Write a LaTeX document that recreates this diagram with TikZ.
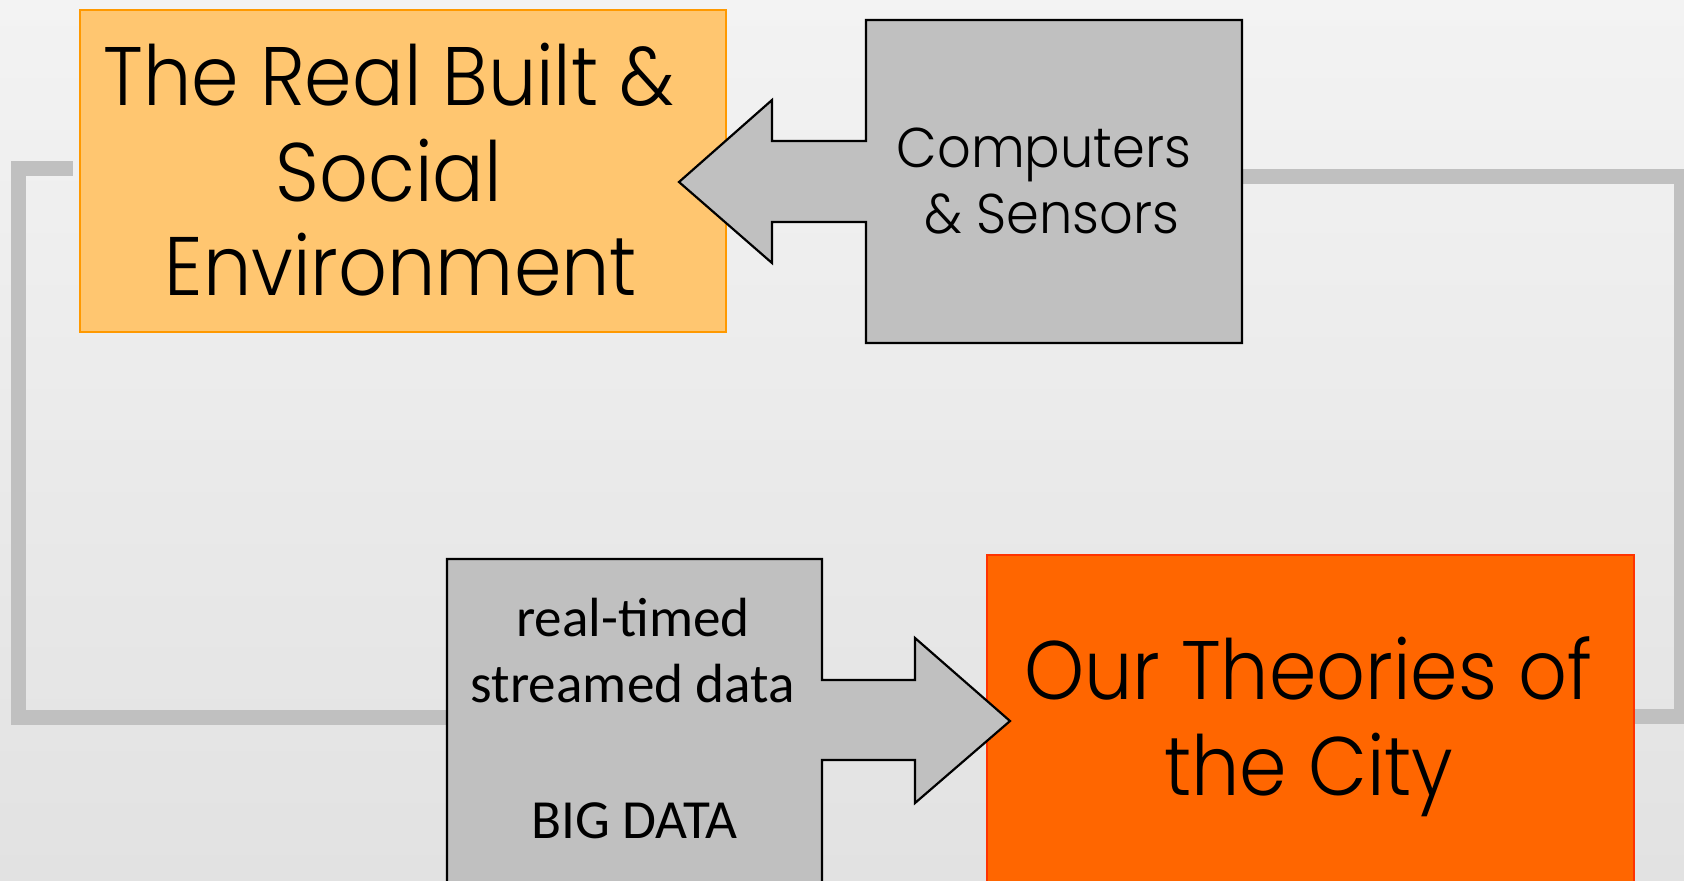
\documentclass[tikz,border=0pt]{standalone}
\usepackage{fontspec}
\newfontfamily\gothic[FakeStretch=0.92]{Poppins Light}
\newfontfamily\gothicmid[FakeStretch=0.94]{Poppins Light}
\newfontfamily\calib{Carlito}
\definecolor{bgtop}{HTML}{F3F3F3}
\definecolor{bgbot}{HTML}{E2E2E2}
\definecolor{lorange}{HTML}{FFC670}
\definecolor{lorangeb}{HTML}{FF9900}
\definecolor{dorange}{HTML}{FF6600}
\definecolor{dorangeb}{HTML}{FF3300}
\definecolor{boxgray}{HTML}{C0C0C0}
\begin{document}
\begin{tikzpicture}[x=0.5pt,y=-0.5pt,
  envbox/.style={rectangle,draw=lorangeb,fill=lorange,line width=1.2pt,inner sep=0pt,
    minimum width=323pt,minimum height=161pt},
  citybox/.style={rectangle,draw=dorangeb,fill=dorange,line width=1.3pt,inner sep=0pt,
    minimum width=323.5pt,minimum height=169.5pt},
  ghostbox/.style={rectangle,draw=none,inner sep=0pt},
  grayshape/.style={draw=black,fill=boxgray,line width=1.1pt,line join=miter},
  link/.style={draw=boxgray,line width=7.5pt,line join=miter,line cap=butt},
  bigtext/.style={font=\gothic\fontsize{41.5pt}{47pt}\selectfont,inner sep=0pt,anchor=base,text=black},
  midtext/.style={font=\gothicmid\fontsize{28pt}{33pt}\selectfont,inner sep=0pt,anchor=base,text=black},
  caltext/.style={font=\calib\fontsize{27.6pt}{33pt}\selectfont,inner sep=0pt,anchor=base,text=black}]
\useasboundingbox (0,0) rectangle (1684,880);
\clip (0,0) rectangle (1684,880);
\shade[top color=bgtop,bottom color=bgbot] (0,0) rectangle (1684,880);

% boxes (named)
\node[envbox] (env) at (403,171) {};
\node[citybox] (theories) at (1310.5,724.5) {};
\node[ghostbox,minimum width=188pt,minimum height=161.5pt] (sensors) at (1054,181.5) {};
\node[ghostbox,minimum width=187.5pt,minimum height=166pt] (data) at (634.5,725) {};

% feedback connectors
\coordinate (rt) at (1681,176);
\coordinate (rb) at (1681,716);
\coordinate (lt) at (18,168.5);
\coordinate (lb) at (18,717);
\coordinate (envgap) at ([xshift=-3pt]env.west);
\draw[link] (sensors.east |- rt) -- (rt) -- (rb) -- (theories.east |- rb);
\draw[link] (envgap |- lt) -- (lt) -- (lb) -- (data.west |- lb);

% box + arrow shapes
\draw[grayshape] (866,20) -- (1242,20) -- (1242,343) -- (866,343) -- (866,222)
  -- (772,222) -- (772,263) -- (679,182) -- (772,100) -- (772,141) -- (866,141) -- cycle;
\draw[grayshape] (447,559) -- (822,559) -- (822,680) -- (915,680) -- (915,638)
  -- (1010,721) -- (915,803) -- (915,760) -- (822,760) -- (822,900) -- (447,900) -- cycle;

% texts
\node[bigtext] (t1) at (389,105) {The Real Built \&};
\node[bigtext] (t2) at (389,201) {Social};
\node[bigtext] (t3) at (401,295) {Environment};
\node[midtext] (s1) at (1044,167) {Computers};
\node[midtext] (s2) at (1052,233) {\& Sensors};
\node[bigtext] (c1) at (1308,699) {Our Theories of};
\node[bigtext] (c2) at (1309,795) {the City};
\node[caltext] (d1) at (633,636) {real-timed};
\node[caltext] (d2) at (633,702) {streamed data};
\node[caltext] (d3) at (634.5,838) {BIG DATA};
\end{tikzpicture}
\end{document}
